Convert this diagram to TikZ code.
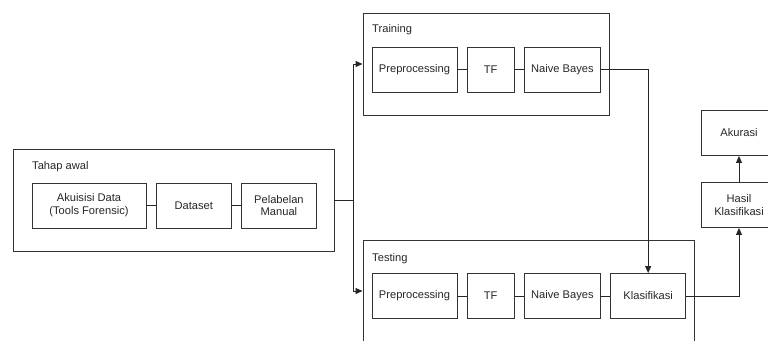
\documentclass[tikz,border=0pt]{standalone}
\usepackage{fontspec}
\setmainfont{Liberation Sans}
\usetikzlibrary{positioning,arrows.meta}
\tikzstyle{squared} = [rectangle, minimum height=1.35cm, inner sep=1pt, text centered, align=center, draw=black!80, line width=0.75pt, text=black!85, font=\fontsize{9.5}{11}\selectfont]
\tikzstyle{group} = [rectangle, minimum height=3.06cm, draw=black!80, line width=0.75pt]
\tikzstyle{grouptitle} = [anchor=west, inner sep=0pt, text=black!85, font=\fontsize{9.5}{11}\selectfont]
\tikzstyle{link} = [line width=0.75pt, draw=black!85]
\tikzstyle{connect} = [line width=0.75pt, draw=black!85, -{Triangle[length=2.1mm,width=1.8mm]}]

\begin{document}
\begin{tikzpicture}[x=0.03cm, y=-0.03cm, node distance=0.28cm]
			\useasboundingbox (0,0) rectangle (768,340);
			\clip (0,0) rectangle (768,340);

			% kotak luar
			\node (tahap) [group, minimum width=9.63cm] at (173.5,200) {};
			\node (training) [group, minimum width=7.38cm] at (486,64) {};
			\node (testing) [group, minimum width=9.93cm] at (528.5,291) {};
			\node (tahaptitle) [grouptitle] at (32,167) {Tahap awal};
			\node (trainingtitle) [grouptitle] at (372,30) {Training};
			\node (testingtitle) [grouptitle] at (372,259) {Testing};

			% tahap awal
			\node (akuisisi) [squared, minimum width=3.42cm] at (89,205.5) {Akuisisi Data\\(Tools Forensic)};
			\node (dataset) [squared, minimum width=2.25cm, right=of akuisisi] {Dataset};
			\node (pelabelan) [squared, minimum width=2.25cm, right=of dataset] {Pelabelan\\Manual};

			% training
			\node (pretrain) [squared, minimum width=2.55cm] at (414.5,69.5) {Preprocessing};
			\node (tftrain) [squared, minimum width=1.41cm, right=of pretrain] {TF};
			\node (nbtrain) [squared, minimum width=2.28cm, right=of tftrain] {Naive Bayes};

			% testing
			\node (pretest) [squared, minimum width=2.55cm] at (414.5,296) {Preprocessing};
			\node (tftest) [squared, minimum width=1.41cm, right=of pretest] {TF};
			\node (nbtest) [squared, minimum width=2.28cm, right=of tftest] {Naive Bayes};
			\node (klasifikasi) [squared, minimum width=2.25cm, right=of nbtest] {Klasifikasi};

			% hasil
			\node (hasil) [squared, minimum width=2.28cm] at (739,205) {Hasil\\Klasifikasi};
			\node (akurasi) [squared, minimum width=2.28cm] at (739,133) {Akurasi};

			\coordinate (bus) at (353,200);

			\draw[link] (akuisisi) -- (dataset);
			\draw[link] (dataset) -- (pelabelan);
			\draw[link] (pretrain) -- (tftrain);
			\draw[link] (tftrain) -- (nbtrain);
			\draw[link] (pretest) -- (tftest);
			\draw[link] (tftest) -- (nbtest);
			\draw[link] (nbtest) -- (klasifikasi);
			\draw[link] (tahap.east) -- (bus);
			\draw[connect] (bus) |- (training.west);
			\draw[connect] (bus) |- (testing.west);
			\draw[connect] (nbtrain.east) -| (klasifikasi.north);
			\draw[connect] (klasifikasi.east) -| (hasil.south);
			\draw[connect] (hasil) -- (akurasi);

\end{tikzpicture}
\end{document}
